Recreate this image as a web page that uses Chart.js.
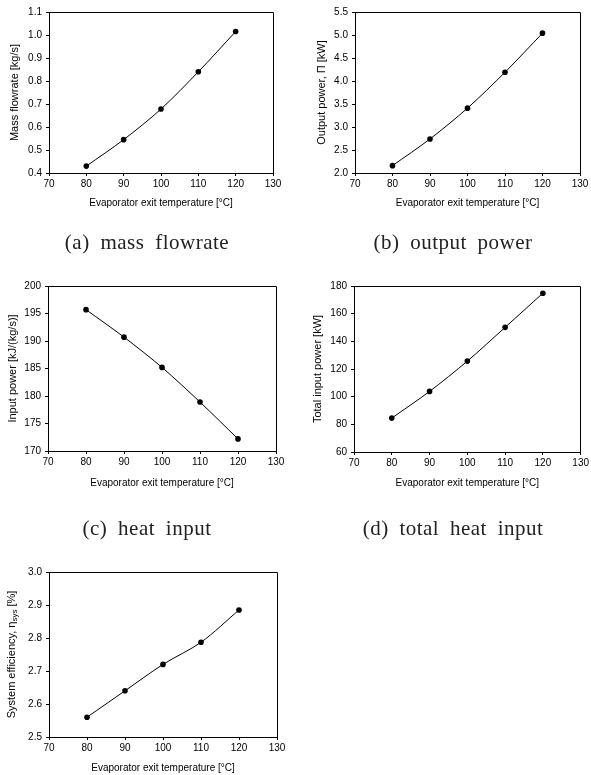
<!DOCTYPE html>
<html><head><meta charset="utf-8">
<script src="https://cdn.jsdelivr.net/npm/chart.js@4"></script>
<style>
html,body{margin:0;padding:0;background:#fff;}
#wrap{position:relative;width:591px;height:775px;overflow:hidden;background:#fff;}
canvas{position:absolute;left:0;top:0;}
.cap{position:absolute;font-family:"Liberation Serif","DejaVu Serif",serif;font-size:21px;color:#222;white-space:pre;transform:translate(-50%,-50%);word-spacing:5px;letter-spacing:0.5px;line-height:1;}
</style></head><body>
<div id="wrap">
<canvas id="ca" width="591" height="775"></canvas>
<canvas id="cb" width="591" height="775"></canvas>
<canvas id="cc" width="591" height="775"></canvas>
<canvas id="cd" width="591" height="775"></canvas>
<canvas id="ce" width="591" height="775"></canvas>
<div class="cap" style="left:147px;top:242px">(a) mass flowrate</div>
<div class="cap" style="left:453px;top:242px">(b) output power</div>
<div class="cap" style="left:147px;top:528px">(c) heat input</div>
<div class="cap" style="left:453px;top:528px">(d) total heat input</div>
</div>
<script>
// ---- data ----
const temperatures = [80, 90, 100, 110, 120];
const massFlowrate = [0.43, 0.545, 0.678, 0.84, 1.015];
const outputPower = [2.16, 2.74, 3.41, 4.19, 5.04];
const heatInput = [195.7, 190.7, 185.2, 178.9, 172.2];
const totalHeatInput = [84.5, 103.8, 125.7, 150.1, 174.8];
const systemEfficiency = [2.56, 2.64, 2.72, 2.787, 2.885];

const tempTicks = [70, 80, 90, 100, 110, 120, 130];
const massTicks = [0.4, 0.5, 0.6, 0.7, 0.8, 0.9, 1.0, 1.1];
const outputTicks = [2.0, 2.5, 3.0, 3.5, 4.0, 4.5, 5.0, 5.5];
const heatTicks = [170, 175, 180, 185, 190, 195, 200];
const totalTicks = [60, 80, 100, 120, 140, 160, 180];
const effTicks = [2.5, 2.6, 2.7, 2.8, 2.9, 3.0];

const xTitle = 'Evaporator exit temperature [°C]';

const W = 591, H = 775;
const FONT = '"Liberation Sans", Arial, sans-serif';

const framePlugin = {
  id: 'frame',
  afterDraw(chart) {
    const a = chart.chartArea, c = chart.ctx;
    const al = v => Math.round(v + 0.5) - 0.5;
    c.save();
    c.strokeStyle = '#000'; c.lineWidth = 1;
    c.beginPath();
    c.moveTo(al(a.left), al(a.top)); c.lineTo(al(a.right), al(a.top));
    c.lineTo(al(a.right), al(a.bottom));
    c.stroke();
    c.restore();
  }
};

function makeChart(id, vals, yTicks, decimals, yTitle, g, customTitle) {
  const yFont = 11, yLH = yFont * 1.2, xFont = 10, xLH = xFont * 1.2;
  const padLeft = g.ytx - yLH / 2;
  const padBottom = H - (g.xty + xLH / 2);
  const yWidth = g.L - padLeft;
  const xHeight = (g.xty + xLH / 2) - g.B;
  const plugins = [framePlugin];
  if (customTitle) plugins.push(customTitle);
  return new Chart(document.getElementById(id), {
    type: 'line',
    data: {
      datasets: [{
        data: temperatures.map((t, i) => ({ x: t, y: vals[i] })),
        borderColor: '#000', borderWidth: 1,
        pointRadius: 2.8, pointBackgroundColor: '#000', pointBorderWidth: 0,
        pointHoverRadius: 2.8,
        tension: 0.3, fill: false
      }]
    },
    options: {
      responsive: false, animation: false,
      layout: { padding: { left: padLeft, top: g.T, right: W - g.R, bottom: padBottom } },
      plugins: { legend: { display: false }, tooltip: { enabled: false } },
      scales: {
        x: {
          type: 'linear', min: tempTicks[0], max: tempTicks[tempTicks.length - 1],
          afterBuildTicks: s => { s.ticks = tempTicks.map(v => ({ value: v })); },
          afterFit: s => { s.height = xHeight; },
          grid: { display: true, drawOnChartArea: false, drawTicks: true, tickLength: 3, color: '#000' },
          border: { display: true, color: '#000', width: 1 },
          ticks: { padding: 2, color: '#000', maxRotation: 0, font: { family: FONT, size: 10 }, callback: v => String(v) },
          title: { display: true, text: xTitle, color: '#000', padding: 0, font: { family: FONT, size: xFont } }
        },
        y: {
          type: 'linear', min: yTicks[0], max: yTicks[yTicks.length - 1],
          afterBuildTicks: s => { s.ticks = yTicks.map(v => ({ value: v })); },
          afterFit: s => { s.width = yWidth; },
          grid: { display: true, drawOnChartArea: false, drawTicks: true, tickLength: 3, color: '#000' },
          border: { display: true, color: '#000', width: 1 },
          ticks: { padding: 4, color: '#000', font: { family: FONT, size: 10 }, callback: v => Number(v).toFixed(decimals) },
          title: { display: !customTitle, text: yTitle, color: '#000', padding: 0, font: { family: FONT, size: yFont } }
        }
      }
    },
    plugins
  });
}

makeChart('ca', massFlowrate, massTicks, 1, 'Mass flowrate [kg/s]',
  { L: 49, R: 273, T: 12, B: 173, ytx: 15, xty: 203 });
makeChart('cb', outputPower, outputTicks, 1, 'Output power, Π [kW]',
  { L: 355, R: 580, T: 12, B: 173, ytx: 322, xty: 203 });
makeChart('cc', heatInput, heatTicks, 0, 'Input power [kJ/(kg/s)]',
  { L: 48, R: 276, T: 286, B: 451, ytx: 13, xty: 483 });
makeChart('cd', totalHeatInput, totalTicks, 0, 'Total input power [kW]',
  { L: 354, R: 582, T: 286, B: 452, ytx: 318, xty: 483 });

const effTitle = {
  id: 'effTitle',
  afterDraw(chart) {
    const c = chart.ctx, a = chart.chartArea;
    const mid = (a.top + a.bottom) / 2;
    const f1 = '11px ' + FONT, f2 = '8px ' + FONT;
    const p1 = 'System efficiency, η', p2 = 'sys', p3 = ' [%]';
    c.save();
    c.font = f1; const w1 = c.measureText(p1).width, w3 = c.measureText(p3).width;
    c.font = f2; const w2 = c.measureText(p2).width;
    const total = w1 + w2 + w3;
    c.translate(12, mid); c.rotate(-Math.PI / 2);
    c.fillStyle = '#000'; c.textBaseline = 'middle'; c.textAlign = 'left';
    let x = -total / 2;
    c.font = f1; c.fillText(p1, x, 0); x += w1;
    c.font = f2; c.fillText(p2, x, 3); x += w2;
    c.font = f1; c.fillText(p3, x, 0);
    c.restore();
  }
};
makeChart('ce', systemEfficiency, effTicks, 1, 'System efficiency, ηsys [%]',
  { L: 49, R: 277, T: 572, B: 737, ytx: 12, xty: 768 }, effTitle);
</script>
</body></html>
